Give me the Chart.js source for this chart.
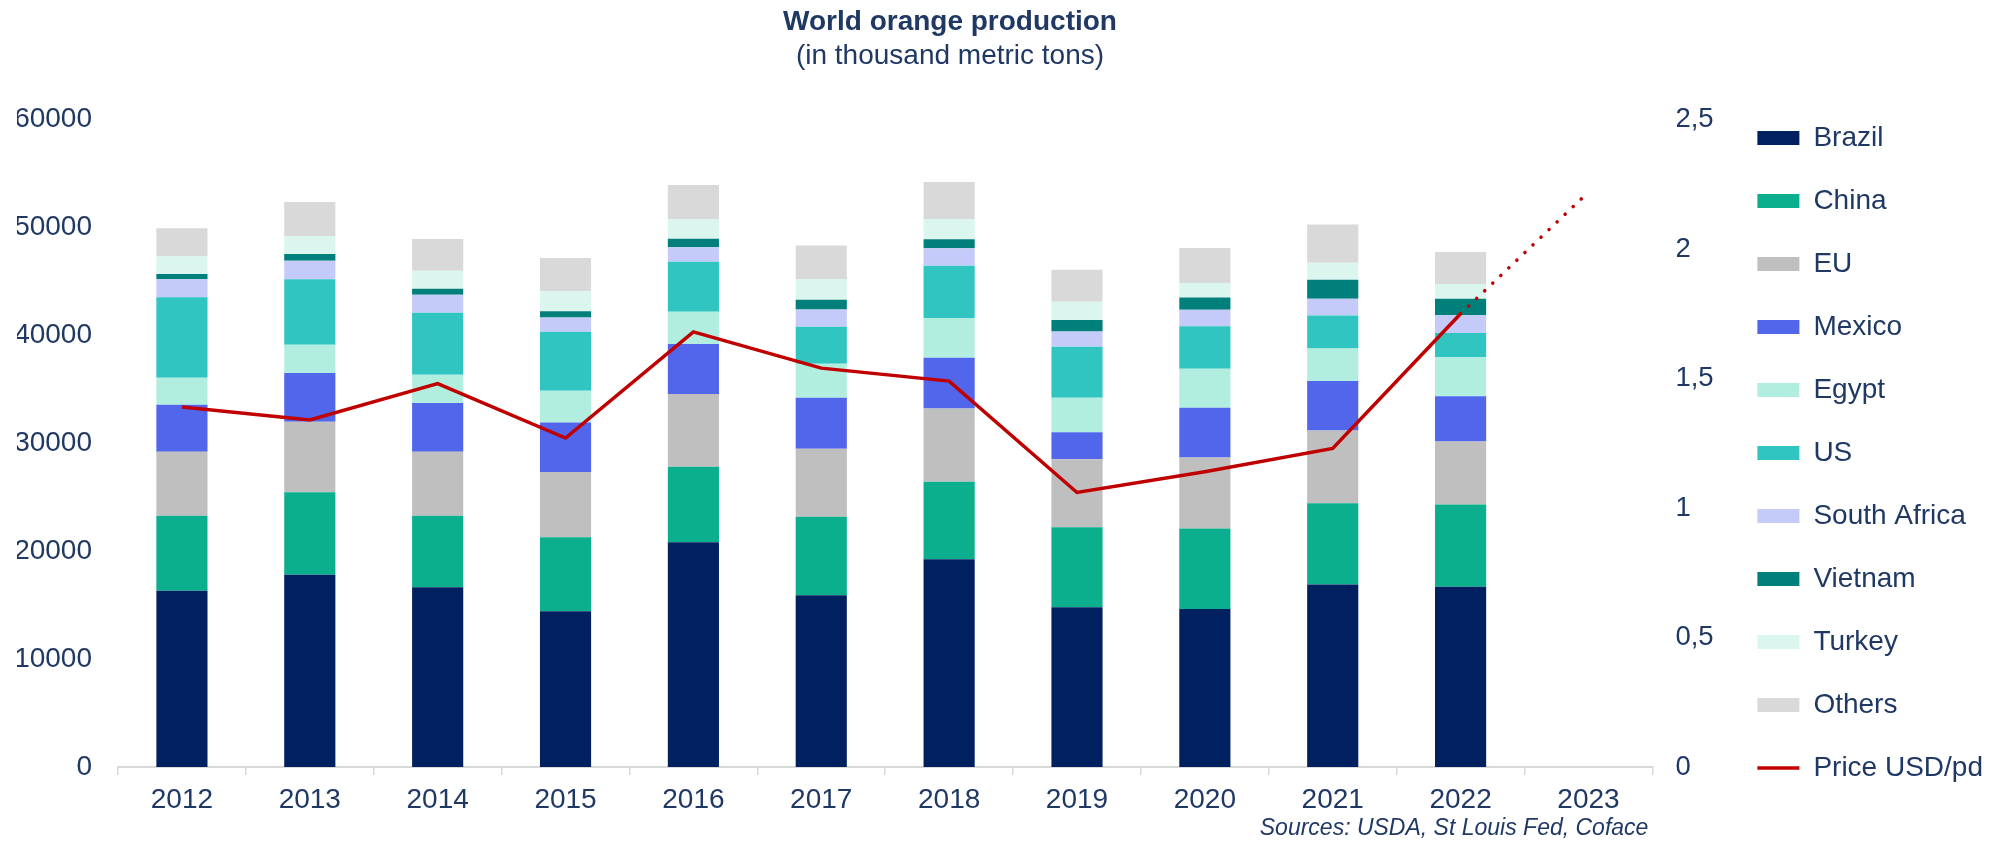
<!DOCTYPE html>
<html>
<head>
<meta charset="utf-8">
<title>World orange production</title>
<script src="https://cdn.jsdelivr.net/npm/chart.js@4/dist/chart.umd.min.js"></script>
<style>
  html, body { margin: 0; padding: 0; background: #fff; }
</style>
</head>
<body>
<canvas id="chart" width="2006" height="845"></canvas>
<script>
// values (thousand metric tons), 2012..2022
const years = ['2012', '2013', '2014', '2015', '2016', '2017', '2018', '2019', '2020', '2021', '2022', '2023'];
const brazil      = [16340, 17820, 16650, 14430, 20820, 15910, 19240, 14800, 14650, 16900, 16710];
const china       = [6940, 7630, 6640, 6850, 7010, 7290, 7190, 7410, 7440, 7530, 7620];
const eu          = [5930, 6540, 5930, 6060, 6730, 6300, 6790, 6300, 6600, 6760, 5830];
const mexico      = [4350, 4510, 4510, 4590, 4630, 4720, 4700, 2500, 4600, 4570, 4200];
const egypt       = [2500, 2620, 2620, 2940, 2990, 3150, 3680, 3210, 3610, 3010, 3610];
const us          = [7470, 6080, 5740, 5460, 4630, 3430, 4840, 4720, 3950, 3060, 2250];
const southAfrica = [1670, 1720, 1670, 1320, 1360, 1600, 1640, 1420, 1510, 1570, 1640];
const vietnam     = [490, 620, 560, 590, 770, 900, 830, 1060, 1140, 1760, 1540];
const turkey      = [1640, 1670, 1670, 1850, 1820, 1920, 1880, 1700, 1360, 1570, 1360];
const others      = [2590, 3150, 2930, 3080, 3180, 3110, 3430, 2960, 3240, 3550, 2960];
// orange juice price, USD per pound (right axis); 2023 is the dotted projection
const price = [1.39, 1.34, 1.48, 1.27, 1.68, 1.54, 1.49, 1.06, 1.14, 1.23, 1.75, 2.22];

const leftTicks = [0, 10000, 20000, 30000, 40000, 50000, 60000];
const rightTicks = [0, 0.5, 1, 1.5, 2, 2.5];

const NAVY = '#1F3864';
const AXIS_GREY = '#d9d9d9';
const FONT = "'Liberation Sans', Arial, sans-serif";

Chart.defaults.font.family = FONT;
Chart.defaults.color = NAVY;

const series = [
  ['Brazil', brazil, '#012060'],
  ['China', china, '#0CAF8D'],
  ['EU', eu, '#BFBFBF'],
  ['Mexico', mexico, '#5266EB'],
  ['Egypt', egypt, '#B1EEDF'],
  ['US', us, '#31C5C1'],
  ['South Africa', southAfrica, '#C5CBF8'],
  ['Vietnam', vietnam, '#017F7B'],
  ['Turkey', turkey, '#DBF5EF'],
  ['Others', others, '#D9D9D9']
];

const datasets = series.map(([label, data, color]) => ({
  type: 'bar',
  label: label,
  data: data,
  backgroundColor: color,
  borderWidth: 0,
  pointStyle: 'rect',
  categoryPercentage: 1,
  barPercentage: 0.4,
  yAxisID: 'y',
  order: 1
}));

const lastIdx = years.length - 1;
datasets.push({
  type: 'line',
  label: 'Price USD/pd',
  data: price,
  borderColor: '#C00000',
  backgroundColor: '#C00000',
  borderWidth: 3.5,
  tension: 0,
  pointRadius: 0,
  pointHoverRadius: 0,
  pointStyle: 'line',
  pointBorderColor: '#C00000',
  pointBorderWidth: 3.5,
  yAxisID: 'y1',
  order: 0,
  segment: {
    borderDash: c => c.p1DataIndex === lastIdx ? [0.1, 11] : undefined,
    borderCapStyle: c => c.p1DataIndex === lastIdx ? 'round' : undefined
  }
});

// title, subtitle and source line, placed like the reference
const captions = {
  id: 'captions',
  afterDraw(chart) {
    const ctx = chart.ctx;
    ctx.save();
    ctx.fillStyle = NAVY;
    ctx.textBaseline = 'middle';
    ctx.textAlign = 'center';
    ctx.font = 'bold 28px ' + FONT;
    ctx.fillText('World orange production', 950, 22);
    ctx.font = '28px ' + FONT;
    ctx.fillText('(in thousand metric tons)', 950, 56);
    ctx.textAlign = 'right';
    ctx.font = 'italic 23px ' + FONT;
    ctx.fillText('Sources: USDA, St Louis Fed, Coface', chart.chartArea.right - 4, 829);
    ctx.restore();
  }
};

new Chart(document.getElementById('chart'), {
  data: { labels: years, datasets: datasets },
  options: {
    responsive: false,
    animation: false,
    layout: { padding: { top: 89, right: 13, bottom: 28, left: 17 } },
    plugins: {
      // empty title used only as a spacer above the plot area
      title: { display: true, text: '', padding: 0, font: { size: 30.5, lineHeight: 1 } },
      tooltip: { enabled: false },
      legend: {
        position: 'right',
        align: 'center',
        labels: {
          usePointStyle: true,
          pointStyleWidth: 42,
          boxHeight: 14,
          padding: 35,
          color: NAVY,
          font: { size: 28 },
          sort: (a, b) => a.datasetIndex - b.datasetIndex
        }
      }
    },
    scales: {
      x: {
        stacked: true,
        grid: { display: true, drawOnChartArea: false, drawTicks: true, tickLength: 8, color: AXIS_GREY, lineWidth: 1.5 },
        border: { display: true, color: AXIS_GREY, width: 2 },
        ticks: { font: { size: 28 }, color: NAVY, padding: 8, maxRotation: 0 },
        afterFit: s => { s.height = 50; }
      },
      y: {
        stacked: true,
        min: leftTicks[0],
        max: leftTicks[leftTicks.length - 1],
        afterBuildTicks: s => { s.ticks = leftTicks.map(v => ({ value: v })); },
        ticks: { font: { size: 28 }, color: NAVY, padding: 26, callback: v => String(v) },
        grid: { display: false, drawTicks: false },
        border: { display: false },
        afterFit: s => { s.width = 101; }
      },
      y1: {
        position: 'right',
        min: rightTicks[0],
        max: rightTicks[rightTicks.length - 1],
        afterBuildTicks: s => { s.ticks = rightTicks.map(v => ({ value: v })); },
        ticks: { font: { size: 27.5 }, color: NAVY, padding: 23, callback: v => String(v).replace('.', ',') },
        grid: { display: false, drawTicks: false },
        border: { display: false },
        afterFit: s => { s.width = 70; }
      }
    }
  },
  plugins: [captions]
});
</script>
</body>
</html>
